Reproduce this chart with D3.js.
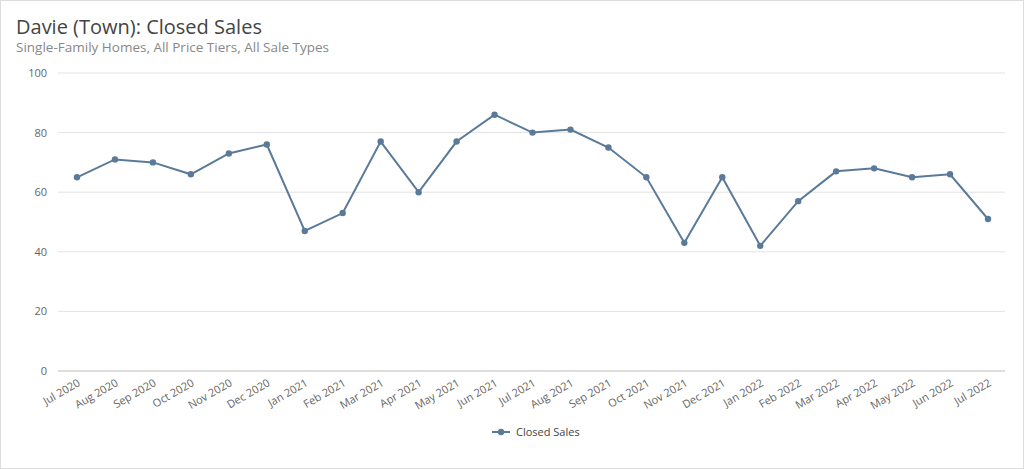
<!DOCTYPE html>
<html><head><meta charset="utf-8">
<script src="https://cdn.jsdelivr.net/npm/d3@7"></script>
<style>
body{margin:0;background:#fff;font-family:"Open Sans","Noto Sans",sans-serif;}
</style></head>
<body><div id="chart"></div>
<script>
const months = ["Jul 2020","Aug 2020","Sep 2020","Oct 2020","Nov 2020","Dec 2020","Jan 2021","Feb 2021","Mar 2021","Apr 2021","May 2021","Jun 2021","Jul 2021","Aug 2021","Sep 2021","Oct 2021","Nov 2021","Dec 2021","Jan 2022","Feb 2022","Mar 2022","Apr 2022","May 2022","Jun 2022","Jul 2022"];
const closedSales = [65,71,70,66,73,76,47,53,77,60,77,86,80,81,75,65,43,65,42,57,67,68,65,66,51];
const yTicks = [0,20,40,60,80,100];

const width = 1024, height = 469;
const color = '#5a7a9a';

const svg = d3.select('#chart').append('svg').attr('width', width).attr('height', height);

svg.append('rect').attr('x', 0.5).attr('y', 0.5).attr('width', width - 1).attr('height', height - 1)
  .attr('fill', 'none').attr('stroke', '#ddd');

svg.append('text').attr('x', 16).attr('y', 34).attr('font-size', 20).attr('fill', '#444')
  .text('Davie (Town): Closed Sales');
svg.append('text').attr('x', 16).attr('y', 52).attr('font-size', 13.5).attr('fill', '#888')
  .text('Single-Family Homes, All Price Tiers, All Sale Types');

const x = d3.scalePoint().domain(months).range([77, 988]);
const y = d3.scaleLinear().domain([0, 100]).range([371, 73]);

// gridlines + y labels
const g = svg.append('g');
g.selectAll('line.grid').data(yTicks).enter().append('line')
  .attr('x1', 58).attr('x2', 1005)
  .attr('y1', d => y(d)).attr('y2', d => y(d))
  .attr('stroke', d => d === 0 ? '#bbb' : '#e3e3e3');
g.selectAll('text.yl').data(yTicks).enter().append('text')
  .attr('x', 47).attr('y', d => y(d) + 4).attr('text-anchor', 'end')
  .attr('font-size', 11).attr('fill', '#666').text(d => d);

// x labels
g.selectAll('text.xl').data(months).enter().append('text')
  .attr('transform', d => `translate(${x(d) + 4},${y(0) + 14}) rotate(-30)`)
  .attr('text-anchor', 'end').attr('font-size', 11).attr('fill', '#666').text(d => d);

const line = d3.line().x((d, i) => x(months[i])).y(d => y(d));
svg.append('path').datum(closedSales).attr('d', line)
  .attr('fill', 'none').attr('stroke', color).attr('stroke-width', 2);
svg.selectAll('circle.pt').data(closedSales).enter().append('circle')
  .attr('cx', (d, i) => x(months[i])).attr('cy', d => y(d)).attr('r', 3.2).attr('fill', color);

// legend
const lg = svg.append('g').attr('transform', 'translate(492,432)');
lg.append('line').attr('x1', 0).attr('x2', 18).attr('stroke', color).attr('stroke-width', 2);
lg.append('circle').attr('cx', 9).attr('r', 3.2).attr('fill', color);
lg.append('text').attr('x', 24).attr('y', 4).attr('font-size', 11).attr('fill', '#444').text('Closed Sales');
</script></body></html>
